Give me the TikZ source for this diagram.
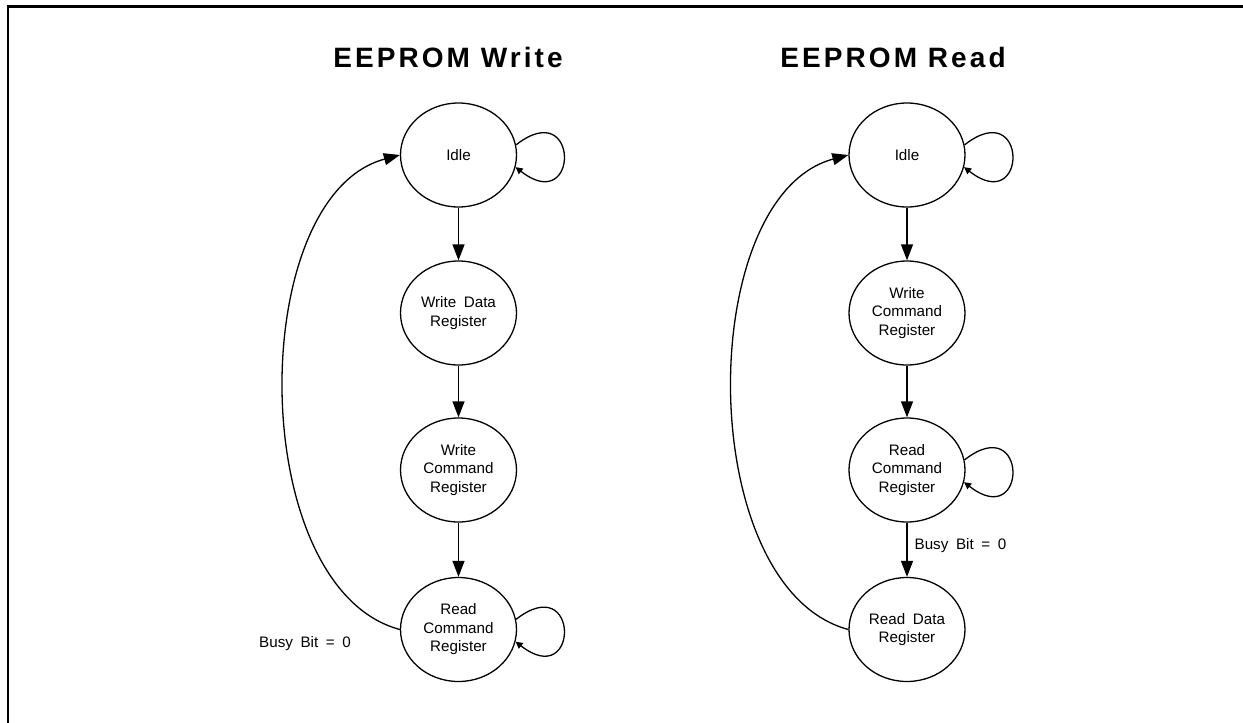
\documentclass[tikz,border=0pt]{standalone}
\usepackage{fontspec}
\setmainfont{Liberation Sans}
\newfontfamily\statefont[WordSpace=1.8]{Liberation Sans}
\newfontfamily\headfont[LetterSpace=11]{Liberation Sans}
\usetikzlibrary{shapes.geometric,arrows.meta}
\tikzset{
  regstate/.style={draw,ellipse,line width=0.65pt,minimum width=58pt,minimum height=52pt,inner sep=0pt,align=center,
    font=\statefont\fontsize{7.6}{9.25}\selectfont},
  title/.style={font=\headfont\bfseries\fontsize{14}{16}\selectfont},
  lbl/.style={inner sep=0pt,font=\statefont\fontsize{7.6}{9.25}\selectfont},
  arr/.style={line width=0.65pt,-{Triangle[length=8pt,width=6pt]}},
  looparr/.style={line width=0.65pt,-{Triangle[length=3.5pt,width=3.5pt]}},
  frame/.style={line width=1.2pt}
}
\begin{document}
\begin{tikzpicture}[x=0.5pt,y=0.5pt]
\clip (0,0) rectangle (1243,-723);
\draw[frame] (8,-760) -- (8,-6.5) -- (1280,-6.5);

\node[title] (ttlW) at (448,-57) {EEPROM Write};
\node[regstate] (idleW) at (458.5,-155) {Idle};
\node[regstate] (wdatW) at (458.5,-313) {Write Data\\Register};
\node[regstate] (wcmdW) at (458.5,-470) {Write\\Command\\Register};
\node[regstate] (rcmdW) at (458.5,-629.5) {Read\\Command\\Register};
\draw[arr] (idleW) -- (wdatW);
\draw[arr] (wdatW) -- (wcmdW);
\draw[arr] (wcmdW) -- (rcmdW);
\draw[arr] (rcmdW.west) to[out=165,in=195,distance=80pt] (idleW.west);
\draw[looparr] (idleW.10) .. controls +(64,50) and +(64,-50) .. (idleW.-12);
\draw[looparr] (rcmdW.10) .. controls +(64,50) and +(64,-50) .. (rcmdW.-12);
\node[lbl] (busyW) at (305,-644) {Busy Bit = 0};

\node[title] (ttlR) at (893,-57) {EEPROM Read};
\node[regstate] (idleR) at (907,-155) {Idle};
\node[regstate] (wcmdR) at (907,-313) {Write\\Command\\Register};
\node[regstate] (rcmdR) at (907,-470) {Read\\Command\\Register};
\node[regstate] (rdatR) at (907,-629.5) {Read Data\\Register};
\draw[arr] (idleR) -- (wcmdR);
\draw[arr] (wcmdR) -- (rcmdR);
\draw[arr] (rcmdR) -- (rdatR) node[lbl,pos=0.42,right=3.5pt] (busyR) {Busy Bit = 0};
\draw[arr] (rdatR.west) to[out=165,in=195,distance=80pt] (idleR.west);
\draw[looparr] (idleR.10) .. controls +(64,50) and +(64,-50) .. (idleR.-12);
\draw[looparr] (rcmdR.10) .. controls +(64,50) and +(64,-50) .. (rcmdR.-12);
\end{tikzpicture}
\end{document}
